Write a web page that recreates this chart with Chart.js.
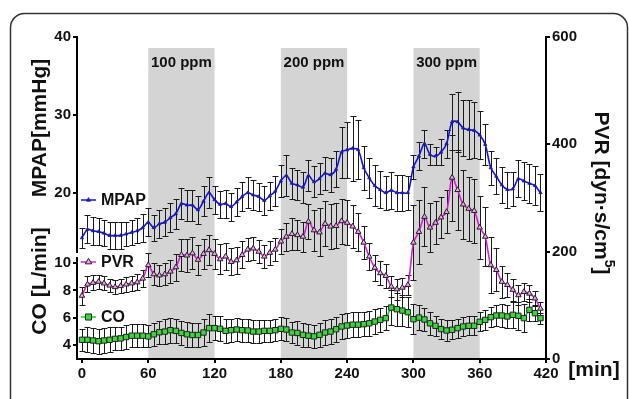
<!DOCTYPE html>
<html>
<head>
<meta charset="utf-8">
<script src="https://cdn.jsdelivr.net/npm/chart.js@4.4.1/dist/chart.umd.min.js"></script>
<style>
  html, body { margin: 0; padding: 0; background: #fff; }
</style>
</head>
<body>
<canvas id="chart" width="629" height="399"></canvas>
<script>
// time points [min]
const times = [
  0, 5, 10, 15, 20, 25, 30, 35, 40, 45, 50, 55,
  60, 65, 70, 75, 80, 85, 90, 95, 100, 105, 110, 115,
  120, 125, 130, 135, 140, 145, 150, 155, 160, 165, 170, 175,
  180, 185, 190, 195, 200, 205, 210, 215, 220, 225, 230, 235,
  240, 245, 250, 255, 260, 265, 270, 275, 280, 285, 290, 295,
  300, 305, 310, 315, 320, 325, 330, 335, 340, 345, 350, 355,
  360, 365, 370, 375, 380, 385, 390, 395, 400, 405, 410, 415
];

// MPAP [mmHg]
const mpap = [
  14.2, 15.3, 15.1, 15.0, 14.8, 14.5, 14.5, 14.5, 14.7, 14.9, 15.1, 15.5,
  16.2, 15.5, 16.0, 16.2, 16.8, 17.3, 18.6, 18.4, 18.4, 17.8, 18.9, 20.0,
  19.1, 18.5, 18.6, 18.2, 18.8, 19.5, 20.0, 19.7, 19.5, 19.0, 19.6, 20.2,
  21.5, 22.2, 21.2, 21.0, 20.7, 22.2, 21.4, 21.8, 22.5, 22.3, 23.0, 25.2,
  25.5, 25.7, 25.5, 23.2, 21.9, 20.9, 20.4, 20.0, 20.3, 20.0, 20.0, 20.0,
  23.3, 24.7, 26.3, 24.9, 24.7, 25.2, 26.3, 29.1, 29.1, 28.3, 28.1, 28.0,
  27.4, 26.2, 23.2, 22.1, 21.0, 20.4, 20.5, 21.8, 21.5, 21.2, 20.9, 20.0
];
const mpapSd = [
  1.3, 1.8, 1.8, 1.7, 1.7, 1.7, 1.7, 1.7, 1.6, 1.6, 1.6, 1.8,
  1.8, 1.7, 1.8, 1.8, 1.9, 1.9, 2.0, 2.0, 2.0, 1.8, 1.9, 2.0,
  1.8, 1.7, 1.8, 1.8, 1.8, 1.9, 2.0, 1.9, 1.8, 1.8, 1.8, 1.9,
  2.1, 2.6, 2.0, 1.9, 2.0, 2.0, 2.0, 2.0, 2.1, 2.2, 2.3, 3.3,
  3.6, 4.2, 3.8, 2.8, 2.6, 2.6, 2.4, 2.2, 2.4, 2.3, 2.3, 2.2,
  1.6, 1.8, 1.8, 1.3, 1.2, 1.7, 1.8, 3.6, 3.9, 3.6, 3.8, 3.6,
  3.1, 2.6, 2.2, 2.3, 2.3, 2.3, 2.2, 2.4, 2.4, 2.5, 2.5, 2.4
];

// PVR [dyn*s/cm5]
const pvr = [
  118, 139, 142, 144, 141, 137, 134, 136, 139, 141, 143, 150,
  175, 158, 156, 158, 163, 171, 194, 193, 197, 185, 196, 203,
  196, 186, 191, 181, 184, 194, 204, 206, 200, 191, 198, 204,
  219, 228, 233, 231, 228, 256, 240, 236, 252, 247, 248, 257,
  254, 247, 237, 217, 191, 170, 160, 155, 135, 130, 133, 138,
  217, 237, 265, 245, 254, 264, 274, 338, 315, 288, 280, 276,
  245, 228, 175, 166, 144, 138, 129, 119, 125, 122, 113, 94
];
const pvrSd = [
  17, 15, 14, 13, 13, 13, 13, 13, 14, 14, 15, 16,
  22, 20, 20, 20, 22, 25, 30, 30, 30, 28, 28, 28,
  28, 28, 26, 25, 25, 25, 22, 22, 22, 22, 22, 22,
  24, 26, 30, 28, 28, 33, 38, 45, 42, 42, 42, 42,
  42, 40, 35, 30, 26, 24, 22, 22, 20, 20, 18, 18,
  70, 60, 55, 45, 40, 38, 40, 80, 75, 65, 60, 60,
  58, 55, 52, 40, 30, 22, 20, 18, 16, 15, 14, 12
];

// CO [L/min]
const co = [
  4.4, 4.4, 4.35, 4.3, 4.35, 4.4, 4.47, 4.5, 4.6, 4.7, 4.7, 4.7,
  4.65, 4.8, 4.95, 5.0, 5.1, 5.05, 4.9, 4.8, 4.75, 4.75, 4.93, 5.25,
  5.25, 5.2, 5.05, 5.1, 5.15, 5.1, 5.08, 5.0, 5.0, 5.05, 5.05, 5.1,
  5.2, 5.15, 4.93, 4.9, 4.76, 4.7, 4.65, 4.76, 4.93, 5.0, 5.17, 5.37,
  5.44, 5.5, 5.5, 5.54, 5.6, 5.73, 5.85, 5.98, 6.75, 6.63, 6.53, 6.41,
  5.9, 6.02, 5.88, 5.6, 5.42, 5.18, 5.08, 5.13, 5.25, 5.37, 5.42, 5.42,
  5.71, 5.85, 6.05, 6.17, 6.17, 6.1, 6.22, 6.15, 5.98, 6.58, 6.34, 5.98
];
const coSd = [
  0.8, 0.9, 0.9, 0.9, 0.9, 0.9, 0.85, 0.85, 0.85, 0.85, 0.85, 0.85,
  0.8, 0.85, 0.85, 0.9, 0.9, 0.9, 0.9, 0.9, 0.9, 0.85, 1.0, 1.0,
  0.9, 0.9, 0.85, 0.85, 0.85, 0.85, 0.85, 0.85, 0.85, 0.8, 0.8, 0.8,
  0.85, 0.85, 0.8, 0.85, 0.9, 0.85, 0.85, 0.85, 0.9, 0.9, 0.9, 0.9,
  0.9, 0.9, 0.9, 0.9, 0.9, 0.9, 0.85, 0.85, 1.3, 1.2, 1.1, 1.1,
  1.1, 0.9, 0.85, 0.85, 0.75, 0.75, 0.75, 0.7, 0.7, 0.7, 0.7, 0.7,
  0.7, 0.7, 0.75, 0.8, 0.85, 0.85, 0.95, 1.0, 1.0, 0.8, 0.6, 0.4
];

// axis ticks
const xTicks = [0, 60, 120, 180, 240, 300, 360, 420];
const mpapTicks = [20, 30, 40];
const coTicks = [4, 6, 8, 10];
const pvrTicks = [0, 200, 400, 600];

// NO exposure periods
const doseBands = [[60, 120], [180, 240], [300, 360]];
const doseLabels = ["100 ppm", "200 ppm", "300 ppm"];

const FONT = "'Liberation Sans', Arial, sans-serif";

const toPoints = (vals) => times.map((t, i) => ({ x: t, y: vals[i] }));
const fixTicks = (list) => (scale) => { scale.ticks = list.map(v => ({ value: v })); };

// frame + grey exposure bands behind everything
const background = {
  id: "background",
  beforeDraw(chart) {
    const { ctx, chartArea, scales } = chart;
    ctx.save();
    ctx.fillStyle = "#fff";
    ctx.fillRect(0, 0, chart.width, chart.height);

    // rounded frame
    ctx.strokeStyle = "#333";
    ctx.lineWidth = 1.5;
    ctx.beginPath();
    ctx.roundRect(10.5, 13.5, 617, 430, 14);
    ctx.stroke();

    ctx.fillStyle = "#d4d4d4";
    doseBands.forEach(([a, b]) => {
      const x0 = scales.x.getPixelForValue(a);
      const x1 = scales.x.getPixelForValue(b);
      const top = chartArea.top + 11;
      ctx.fillRect(x0, top, x1 - x0, chartArea.bottom - top - 1);
    });
    ctx.fillStyle = "#111";
    ctx.font = "bold 15px " + FONT;
    ctx.textAlign = "center";
    ctx.textBaseline = "middle";
    doseBands.forEach(([a, b], i) => {
      const xc = scales.x.getPixelForValue((a + b) / 2);
      ctx.fillText(doseLabels[i], xc, chartArea.top + 26);
    });
    ctx.restore();
  }
};

// mean +/- SD whiskers
const errorBars = {
  id: "errorBars",
  beforeDatasetsDraw(chart) {
    const ctx = chart.ctx;
    ctx.save();
    ctx.strokeStyle = "#1a1a1a";
    ctx.lineWidth = 1;
    chart.data.datasets.forEach((ds, di) => {
      const meta = chart.getDatasetMeta(di);
      const ys = chart.scales[ds.yAxisID];
      meta.data.forEach((pt, i) => {
        const v = ds.data[i].y;
        const e = ds.sd[i];
        const x = Math.round(pt.x) + 0.5;
        const top = Math.round(ys.getPixelForValue(v + e)) + 0.5;
        const bot = Math.round(ys.getPixelForValue(v - e)) + 0.5;
        ctx.beginPath();
        ctx.moveTo(x, top); ctx.lineTo(x, bot);
        ctx.moveTo(x - 3, top); ctx.lineTo(x + 3, top);
        ctx.moveTo(x - 3, bot); ctx.lineTo(x + 3, bot);
        ctx.stroke();
      });
    });
    ctx.restore();
  }
};

// legend entries, axis titles, axis break
const annotations = {
  id: "annotations",
  afterDraw(chart) {
    const { ctx, scales } = chart;
    ctx.save();

    // break between the two left axes
    const yb = scales.yMpap.bottom;
    ctx.fillStyle = "#fff";
    ctx.fillRect(scales.yMpap.right - 2, yb - 2, 4, 4);

    // legend
    const entries = [
      { ds: chart.data.datasets[0], y: 200 },
      { ds: chart.data.datasets[1], y: 262 },
      { ds: chart.data.datasets[2], y: 317 }
    ];
    entries.forEach(({ ds, y }) => {
      ctx.strokeStyle = ds.borderColor;
      ctx.lineWidth = 1.5;
      ctx.beginPath();
      ctx.moveTo(81, y); ctx.lineTo(96, y);
      ctx.stroke();
      ctx.fillStyle = ds.pointBackgroundColor;
      ctx.strokeStyle = ds.pointBorderColor;
      ctx.lineWidth = ds.pointBorderWidth;
      Chart.helpers.drawPoint(ctx, {
        pointStyle: ds.pointStyle, radius: ds.pointRadius + 0.5, borderWidth: ds.pointBorderWidth, rotation: 0
      }, 88.5, y);
      ctx.fillStyle = "#111";
      ctx.font = "bold 16px " + FONT;
      ctx.textAlign = "left";
      ctx.textBaseline = "middle";
      ctx.fillText(ds.label, 101, y + 1);
    });

    ctx.fillStyle = "#111";
    ctx.font = "bold 21px " + FONT;
    ctx.textAlign = "center";
    ctx.textBaseline = "middle";

    const rotText = (txt, x, y, ang) => {
      ctx.save();
      ctx.translate(x, y);
      ctx.rotate(ang);
      ctx.fillText(txt, 0, 0);
      ctx.restore();
    };
    rotText("MPAP[mmHg]", 40, 128, -Math.PI / 2);
    rotText("CO [L/min]", 40, 281, -Math.PI / 2);

    // right title with superscript
    ctx.save();
    ctx.translate(601, 193);
    ctx.rotate(Math.PI / 2);
    const main = "PVR [dyn\u00B7s/cm";
    const wMain = ctx.measureText(main).width;
    ctx.font = "bold 14px " + FONT;
    const wSup = ctx.measureText("5").width;
    ctx.font = "bold 21px " + FONT;
    const wEnd = ctx.measureText("]").width;
    const start = -(wMain + wSup + wEnd) / 2;
    ctx.textAlign = "left";
    ctx.fillText(main, start, 0);
    ctx.font = "bold 14px " + FONT;
    ctx.fillText("5", start + wMain, -8);
    ctx.font = "bold 21px " + FONT;
    ctx.fillText("]", start + wMain + wSup, 0);
    ctx.restore();

    ctx.textAlign = "center";
    ctx.fillText("[min]", 594, 370);
    ctx.restore();
  }
};

const tickFont = { family: FONT, size: 15, weight: "bold" };
const tickOpts = { font: tickFont, color: "#111", padding: 2, autoSkip: false, maxRotation: 0 };
const axisGrid = { display: true, drawOnChartArea: false, drawTicks: true, tickLength: 4, color: "#000", lineWidth: 2 };
const axisBorder = { display: true, color: "#000", width: 2 };

new Chart(document.getElementById("chart"), {
  type: "line",
  data: {
    datasets: [
      {
        label: "MPAP",
        data: toPoints(mpap),
        sd: mpapSd,
        yAxisID: "yMpap",
        borderColor: "#1010ee",
        borderWidth: 1.6,
        tension: 0.3,
        pointStyle: "triangle",
        pointRadius: 1.9,
        pointBackgroundColor: "#20208a",
        pointBorderColor: "#20208a",
        pointBorderWidth: 0.8
      },
      {
        label: "PVR",
        data: toPoints(pvr),
        sd: pvrSd,
        yAxisID: "yPvr",
        borderColor: "#d61ed6",
        borderWidth: 1.6,
        tension: 0.3,
        pointStyle: "triangle",
        pointRadius: 3.2,
        pointBackgroundColor: "#e9a6e9",
        pointBorderColor: "#222",
        pointBorderWidth: 1
      },
      {
        label: "CO",
        data: toPoints(co),
        sd: coSd,
        yAxisID: "yCo",
        borderColor: "#22cc22",
        borderWidth: 1.6,
        tension: 0.3,
        pointStyle: "rect",
        pointRadius: 3.8,
        pointBackgroundColor: "#3dd43d",
        pointBorderColor: "#222",
        pointBorderWidth: 1
      }
    ]
  },
  options: {
    responsive: false,
    animation: false,
    layout: { padding: { top: 37, left: 0, right: 0, bottom: 0 } },
    plugins: { legend: { display: false }, tooltip: { enabled: false } },
    scales: {
      x: {
        type: "linear",
        min: -4.5,
        max: 420,
        afterBuildTicks: fixTicks(xTicks),
        afterFit: (s) => { s.height = 40; },
        grid: axisGrid,
        border: axisBorder,
        ticks: tickOpts
      },
      yCo: {
        type: "linear",
        position: "left",
        stack: "left",
        stackWeight: 104,
        min: 3,
        max: 10.58,
        afterBuildTicks: fixTicks(coTicks),
        afterFit: (s) => { s.width = 77; },
        grid: axisGrid,
        border: axisBorder,
        ticks: tickOpts
      },
      yMpap: {
        type: "linear",
        position: "left",
        stack: "left",
        stackWeight: 218,
        min: 12,
        max: 40,
        afterBuildTicks: fixTicks(mpapTicks),
        afterFit: (s) => { s.width = 77; },
        grid: axisGrid,
        border: axisBorder,
        ticks: tickOpts
      },
      yPvr: {
        type: "linear",
        position: "right",
        min: 0,
        max: 600,
        afterBuildTicks: fixTicks(pvrTicks),
        afterFit: (s) => { s.width = 83; },
        grid: axisGrid,
        border: axisBorder,
        ticks: tickOpts
      }
    }
  },
  plugins: [background, errorBars, annotations]
});
</script>
</body>
</html>
